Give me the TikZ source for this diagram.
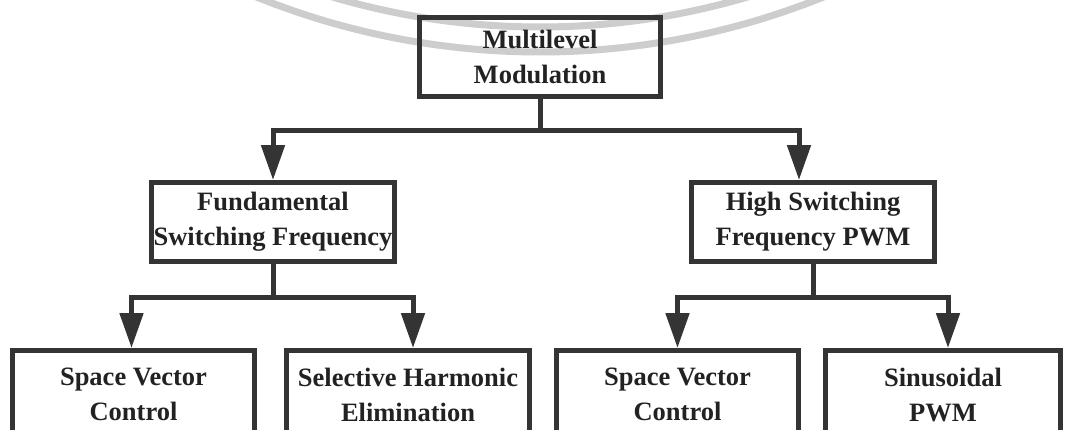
\documentclass[tikz,border=0pt]{standalone}
\usepackage{fontspec}
\setmainfont{Liberation Serif}
\usetikzlibrary{arrows.meta}
\definecolor{boxgray}{RGB}{52,52,52}
\definecolor{inkgray}{RGB}{34,34,34}
\definecolor{markgray}{RGB}{205,205,205}

\begin{document}
\begin{tikzpicture}[x=1pt,y=-1pt,
		modbox/.style={draw=boxgray,line width=5pt,inner sep=0pt,align=center,
			text=inkgray,font=\bfseries\fontsize{26.5}{35}\selectfont},
		branch/.style={draw=boxgray,line width=5pt,-{Triangle[length=35pt,width=23pt]}}]
			\useasboundingbox (0,0) rectangle (1065,429);
			% watermark rings behind the top box
			\begin{scope}[line width=7pt,markgray]
			\clip (0,0) rectangle (1065,429);
			\draw (540,-706) ++(65:758) arc[start angle=65,end angle=115,radius=758];
			\draw (540,-706) ++(65:733) arc[start angle=65,end angle=115,radius=733];
			\end{scope}
			
			\node[modbox,minimum width=241pt,minimum height=79pt] (mlm) at (540,57) {Multilevel\\Modulation};
			\node[modbox,minimum width=243pt,minimum height=79pt] (fsf) at (273,222) {Fundamental\\Switching Frequency};
			\node[modbox,minimum width=243pt,minimum height=79pt] (hsf) at (813,222) {High Switching\\Frequency PWM};
			
			\begin{scope}[minimum height=88pt]
			\node[modbox,minimum width=242pt] (svcA) at (133.5,394.5) {Space Vector\\Control};
			\node[modbox,minimum width=243pt] (she) at (408,394.5) {Selective Harmonic\\Elimination};
			\node[modbox,minimum width=242pt] (svcB) at (677.5,394.5) {Space Vector\\Control};
			\node[modbox,minimum width=235pt] (spwm) at (943,394.5) {Sinusoidal\\PWM};
			\end{scope}
			
			% tree connectors
			\draw[branch] (mlm.south) -- ++(0,31.5) -| (fsf.north);
			\draw[branch] (mlm.south) -- ++(0,31.5) -| ([xshift=-14pt]hsf.north);
			\draw[branch] (fsf.south) -- ++(0,33.5) -| ([xshift=-2pt]svcA.north);
			\draw[branch] (fsf.south) -- ++(0,33.5) -| ([xshift=5pt]she.north);
			\draw[branch] (hsf.south) -- ++(0,33.5) -| (svcB.north);
			\draw[branch] (hsf.south) -- ++(0,33.5) -| ([xshift=5pt]spwm.north);
\end{tikzpicture}
\end{document}
